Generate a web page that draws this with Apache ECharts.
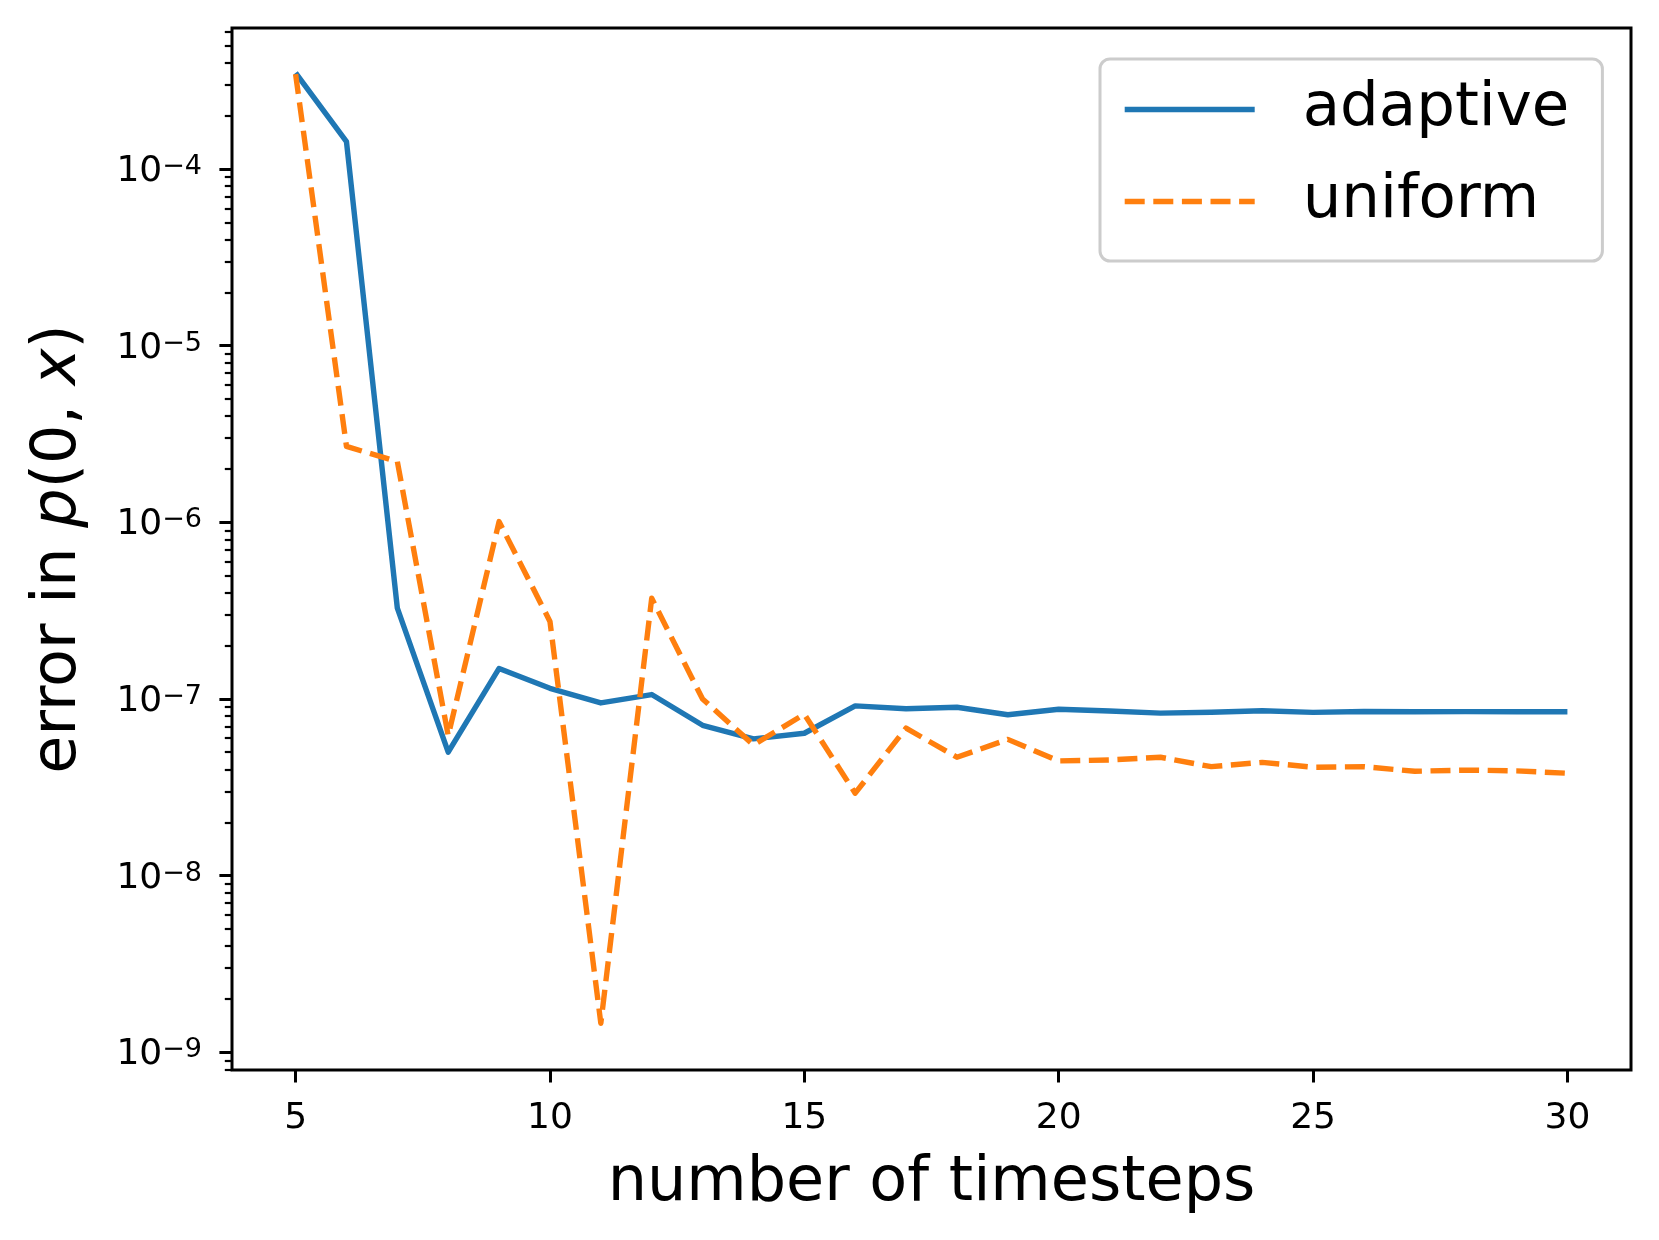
<!DOCTYPE html>
<html>
<head>
<meta charset="utf-8">
<script src="https://cdn.jsdelivr.net/npm/echarts@6/dist/echarts.min.js"></script>
<style>
html, body { margin: 0; padding: 0; background: #ffffff; }
#chart { width: 1659px; height: 1240px; }
</style>
</head>
<body>
<div id="chart"></div>
<script>
// ---- data ----
const steps = [5, 6, 7, 8, 9, 10, 11, 12, 13, 14, 15, 16, 17, 18, 19, 20, 21, 22, 23, 24, 25, 26, 27, 28, 29, 30];
const adaptive = [3.5e-4, 1.43e-4, 3.27e-7, 5.0e-8, 1.49e-7, 1.15e-7, 9.5e-8, 1.06e-7, 7.1e-8, 5.95e-8,
                  6.4e-8, 9.15e-8, 8.8e-8, 8.98e-8, 8.15e-8, 8.75e-8, 8.55e-8, 8.32e-8, 8.42e-8, 8.58e-8,
                  8.4e-8, 8.5e-8, 8.47e-8, 8.48e-8, 8.47e-8, 8.47e-8];
const uniform = [3.45e-4, 2.69e-6, 2.21e-6, 6.2e-8, 1.01e-6, 2.75e-7, 1.46e-9, 3.72e-7, 1.0e-7, 5.5e-8,
                 8.2e-8, 2.93e-8, 6.84e-8, 4.68e-8, 5.91e-8, 4.46e-8, 4.52e-8, 4.68e-8, 4.14e-8, 4.38e-8,
                 4.11e-8, 4.14e-8, 3.9e-8, 3.96e-8, 3.92e-8, 3.8e-8];
const seriesNames = ['adaptive', 'uniform'];
const xTicks = [5, 10, 15, 20, 25, 30];
const yMajorTicks = [1e-9, 1e-8, 1e-7, 1e-6, 1e-5, 1e-4];
const X_MIN = 3.75, X_MAX = 31.25;
const Y_MIN = 7.94e-10, Y_MAX = 6.29e-4;

// minor log ticks (2..9 x 10^n) inside the axis range
const yMinorTicks = [];
for (let e = -10; e <= -4; e++) {
  for (let m = 2; m <= 9; m++) {
    const v = m * Math.pow(10, e);
    if (v >= Y_MIN && v <= Y_MAX) yMinorTicks.push(v);
  }
}

const FONT = 'DejaVu Sans';
const BLUE = '#1f77b4', ORANGE = '#ff7f0e';
const DASH = [20, 8.6];
const LW = 5.4;

const chart = echarts.init(document.getElementById('chart'), null, { renderer: 'canvas' });

const option = {
  animation: false,
  backgroundColor: '#ffffff',
  grid: {
    left: 232, right: 28, top: 28, bottom: 170,
    show: true, borderColor: '#000000', borderWidth: 3, backgroundColor: 'transparent'
  },
  legend: {
    orient: 'vertical',
    left: 1100, top: 59,
    itemWidth: 130, itemHeight: 20, itemGap: 21,
    padding: [15, 33, 24, 22],
    backgroundColor: 'rgba(255,255,255,0.8)',
    borderColor: '#cccccc', borderWidth: 3, borderRadius: 10,
    itemStyle: { opacity: 0 },
    lineStyle: { width: LW, cap: 'butt' },
    textStyle: { fontFamily: FONT, fontSize: 61, color: '#000000', lineHeight: 61, padding: [10, 0, 0, 43] },
    data: [
      { name: seriesNames[0], lineStyle: { type: 'solid', width: LW, color: BLUE } },
      { name: seriesNames[1], lineStyle: { type: DASH, width: LW, color: ORANGE } }
    ]
  },
  xAxis: {
    type: 'value', min: X_MIN, max: X_MAX,
    name: 'number of timesteps', nameLocation: 'middle', nameGap: 83,
    nameTextStyle: { fontFamily: FONT, fontSize: 62, color: '#000000', lineHeight: 62 },
    axisLine: { show: false },
    axisTick: { show: true, customValues: xTicks, length: 12.6, lineStyle: { color: '#000000', width: 3 } },
    axisLabel: { customValues: xTicks, fontFamily: FONT, fontSize: 36, color: '#000000', margin: 31, lineHeight: 36 },
    splitLine: { show: false }
  },
  yAxis: [
    {
      type: 'log', logBase: 10, min: Y_MIN, max: Y_MAX, position: 'left',
      name: '{t|error in }{i|p}{t|(0, }{i|x}{t|)}',
      nameLocation: 'middle', nameRotate: 90, nameGap: 142,
      nameTextStyle: {
        fontFamily: FONT, fontSize: 62, color: '#000000',
        rich: {
          t: { fontFamily: FONT, fontSize: 62, color: '#000000', lineHeight: 62 },
          i: { fontFamily: FONT, fontSize: 62, fontStyle: 'italic', color: '#000000', lineHeight: 62 }
        }
      },
      axisLine: { show: false },
      axisTick: { show: true, customValues: yMajorTicks, length: 12.6, lineStyle: { color: '#000000', width: 3 } },
      axisLabel: {
        customValues: yMajorTicks,
        margin: 30,
        padding: [5, 0, 0, 0],
        formatter: function (v) {
          const e = Math.round(Math.log10(v));
          return '{b|10}{s|' + (e < 0 ? '\u2212' : '') + Math.abs(e) + '}';
        },
        rich: {
          b: { fontFamily: FONT, fontSize: 36, color: '#000000', lineHeight: 36 },
          s: { fontFamily: FONT, fontSize: 27, color: '#000000', lineHeight: 27, verticalAlign: 'top' }
        }
      },
      splitLine: { show: false },
      minorTick: { show: false }
    },
    {
      type: 'log', logBase: 10, min: Y_MIN, max: Y_MAX, position: 'left', offset: 0,
      axisLine: { show: false },
      axisLabel: { show: false },
      axisTick: { show: true, customValues: yMinorTicks, length: 7.2, lineStyle: { color: '#000000', width: 2.2 } },
      splitLine: { show: false }
    }
  ],
  series: [
    {
      name: seriesNames[0], type: 'line', yAxisIndex: 0,
      data: steps.map((s, k) => [s, adaptive[k]]),
      symbol: 'none', showSymbol: false,
      lineStyle: { color: BLUE, width: LW, join: 'round', cap: 'butt' },
      itemStyle: { color: BLUE },
      z: 3
    },
    {
      name: seriesNames[1], type: 'line', yAxisIndex: 0,
      data: steps.map((s, k) => [s, uniform[k]]),
      symbol: 'none', showSymbol: false,
      lineStyle: { color: ORANGE, width: LW, type: DASH, join: 'round', cap: 'butt' },
      itemStyle: { color: ORANGE },
      z: 4
    }
  ]
};

chart.setOption(option);
</script>
</body>
</html>
